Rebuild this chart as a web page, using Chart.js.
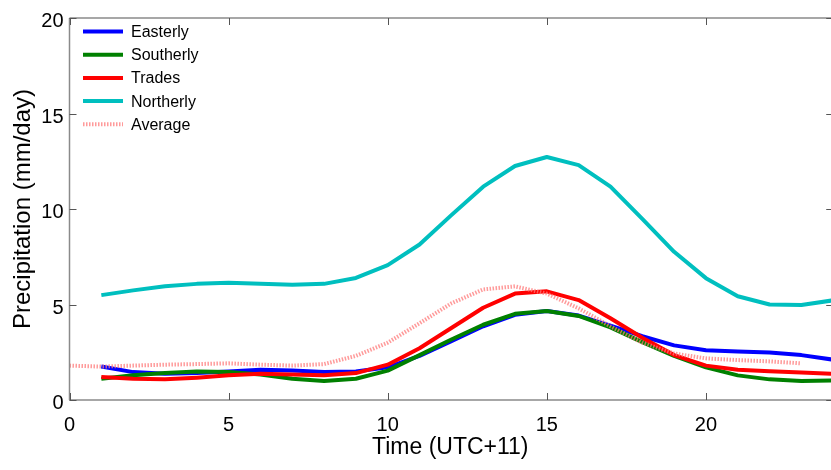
<!DOCTYPE html>
<html><head><meta charset="utf-8">
<script src="https://cdn.jsdelivr.net/npm/chart.js@4/dist/chart.umd.min.js"></script>
<style>html,body{margin:0;padding:0;background:#fff;overflow:hidden}#wrap{width:831px;height:470px}</style>
</head><body><div id="wrap"><canvas id="c" width="831" height="470"></canvas></div>
<script>
const hours    = [1,2,3,4,5,6,7,8,9,10,11,12,13,14,15,16,17,18,19,20,21,22,23,24];
const avgHours = [0,1,2,3,4,5,6,7,8,9,10,11,12,13,14,15,16,17,18,19,20,21,22,23];
const easterly  = [1.75,1.46,1.37,1.41,1.49,1.58,1.54,1.46,1.49,1.71,2.31,3.08,3.86,4.46,4.66,4.42,3.89,3.34,2.86,2.60,2.54,2.49,2.35,2.11];
const southerly = [1.11,1.29,1.41,1.49,1.46,1.34,1.11,0.99,1.11,1.54,2.35,3.17,3.94,4.51,4.66,4.40,3.80,3.03,2.31,1.71,1.29,1.08,0.99,1.03];
const trades    = [1.20,1.11,1.08,1.17,1.29,1.37,1.34,1.29,1.41,1.85,2.71,3.77,4.83,5.57,5.69,5.23,4.28,3.26,2.35,1.80,1.58,1.51,1.44,1.37];
const northerly = [5.49,5.74,5.96,6.08,6.14,6.08,6.03,6.08,6.39,7.06,8.14,9.68,11.17,12.25,12.72,12.30,11.17,9.48,7.76,6.38,5.43,5.00,4.97,5.22];
const average   = [1.80,1.75,1.80,1.85,1.88,1.92,1.85,1.80,1.88,2.31,3.00,4.02,5.06,5.79,5.95,5.57,4.80,3.86,3.00,2.43,2.18,2.09,2.02,1.92];
const xTicks = [0,5,10,15,20];
const yTicks = [0,5,10,15,20];
const seriesNames = ['Easterly','Southerly','Trades','Northerly','Average'];

const FONT = "'Liberation Sans', Arial, sans-serif";
function pts(xs, ys){ return xs.map((x,i)=>({x:x,y:ys[i]})); }

const colors = ['#0000ff','#008000','#ff0000','#00bfbf','rgba(255,120,120,0.75)'];
const datasets = [
  {label:seriesNames[0], data:pts(hours,easterly)},
  {label:seriesNames[1], data:pts(hours,southerly)},
  {label:seriesNames[2], data:pts(hours,trades)},
  {label:seriesNames[3], data:pts(hours,northerly)},
  {label:seriesNames[4], data:pts(avgHours,average), borderDash:[1.5,1.5]}
].map((d,i)=>Object.assign({
  borderColor:colors[i], backgroundColor:colors[i], borderWidth:4,
  pointRadius:0, tension:0, fill:false, borderJoinStyle:'round',
  order: 4 - i
}, d));

const boxPlugin = {
  id:'box',
  afterDatasetsDraw(chart){
    const ctx = chart.ctx, a = chart.chartArea;
    const xs = chart.scales.x, ys = chart.scales.y;
    const right = xs.getPixelForValue(24);
    ctx.save();
    ctx.strokeStyle = '#8a8a8a'; ctx.lineWidth = 1.5;
    ctx.beginPath();
    ctx.moveTo(a.left, a.top); ctx.lineTo(right, a.top);
    ctx.moveTo(a.left, a.bottom); ctx.lineTo(right, a.bottom);
    ctx.moveTo(a.left, a.top); ctx.lineTo(a.left, a.bottom);
    ctx.moveTo(right, a.top); ctx.lineTo(right, a.bottom);
    ctx.stroke();
    ctx.strokeStyle = '#555'; ctx.lineWidth = 1;
    ctx.beginPath();
    const tl = 7;
    xTicks.forEach(v=>{ const px = Math.round(xs.getPixelForValue(v))+0.5;
      ctx.moveTo(px, a.bottom); ctx.lineTo(px, a.bottom-tl);
      ctx.moveTo(px, a.top); ctx.lineTo(px, a.top+tl); });
    yTicks.forEach(v=>{ const py = Math.round(ys.getPixelForValue(v))+0.5;
      ctx.moveTo(a.left, py); ctx.lineTo(a.left+tl, py);
      ctx.moveTo(right, py); ctx.lineTo(right-tl, py); });
    ctx.stroke();
    // legend
    const lx0 = 83, lx1 = 123, tx = 131, y0 = 31.5, dy = 23.2;
    ctx.font = "16px " + FONT; ctx.textBaseline = 'middle'; ctx.textAlign='left';
    chart.data.datasets.forEach((d,i)=>{
      const y = y0 + i*dy;
      ctx.save();
      ctx.strokeStyle = d.borderColor; ctx.lineWidth = 4;
      ctx.setLineDash(d.borderDash || []);
      ctx.beginPath(); ctx.moveTo(lx0,y); ctx.lineTo(lx1,y); ctx.stroke();
      ctx.restore();
      ctx.fillStyle = '#000';
      ctx.fillText(d.label, tx, y+1);
    });
    ctx.restore();
  }
};

new Chart(document.getElementById('c'), {
  type:'line',
  data:{datasets:datasets},
  options:{
    responsive:false, animation:false, devicePixelRatio:1,
    layout:{padding:{top:11,left:0,right:0,bottom:0}},
    plugins:{legend:{display:false}, tooltip:{enabled:false}},
    scales:{
      x:{type:'linear', min:0, max:23.93,
         afterBuildTicks(s){ s.ticks = xTicks.map(v=>({value:v})); },
         afterFit(s){ s.height = 70; },
         grid:{display:false, drawTicks:false}, border:{display:false},
         ticks:{font:{family:FONT,size:20}, color:'#000', padding:13, maxRotation:0, autoSkip:false},
         title:{display:true, text:'Time (UTC+11)', font:{family:FONT,size:23}, color:'#000', padding:{top:0,bottom:9}}
      },
      y:{type:'linear', min:0, max:20,
         afterBuildTicks(s){ s.ticks = yTicks.map(v=>({value:v})); },
         afterFit(s){ s.width = 69.5; },
         grid:{display:false, drawTicks:false}, border:{display:false},
         ticks:{font:{family:FONT,size:20}, color:'#000', padding:6, labelOffset:3.5, autoSkip:false},
         title:{display:true, text:'Precipitation (mm/day)', font:{family:FONT,size:24}, color:'#000', padding:{top:9,bottom:0}}
      }
    }
  },
  plugins:[boxPlugin]
});
</script></body></html>
